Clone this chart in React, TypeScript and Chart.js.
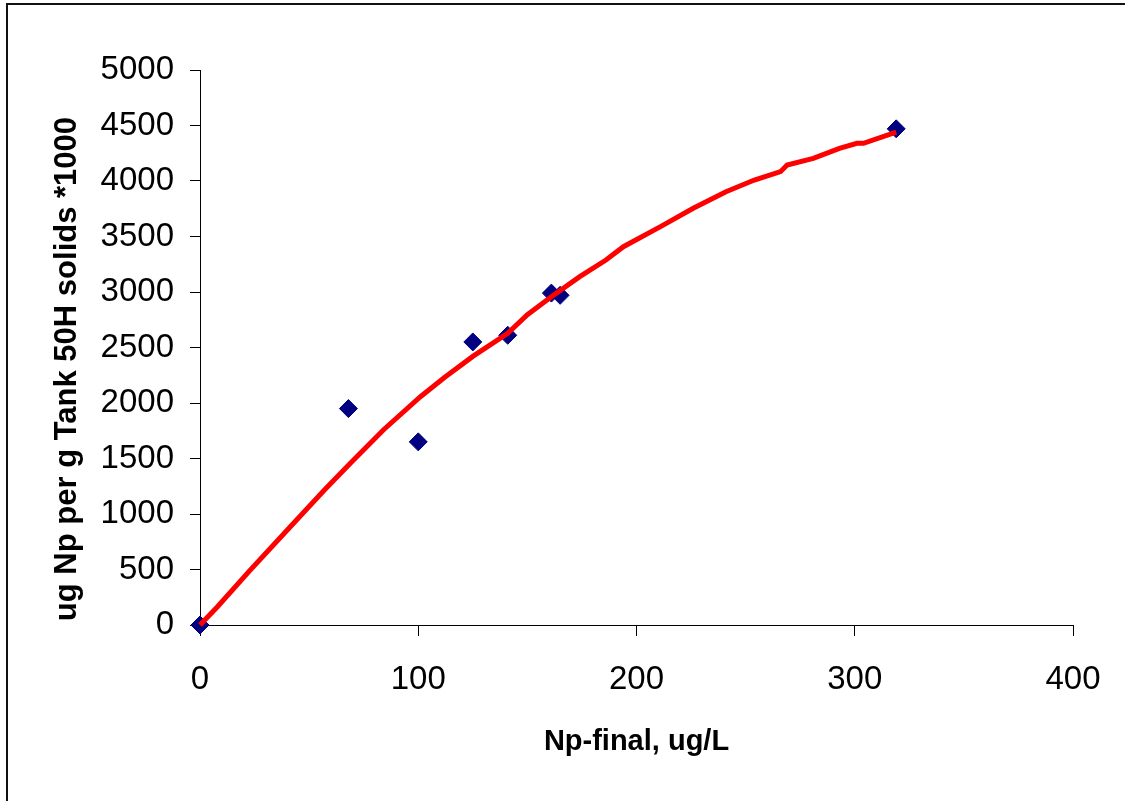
import React, { useEffect, useRef } from "react";
import { Chart, registerables } from "chart.js";

Chart.register(...registerables);

// Measured points (Np-final, ug/L vs ug Np per g solids *1000)
const measuredX = [0, 68, 100, 125, 141, 161, 165, 319];
const measuredY = [0, 1950, 1650, 2550, 2610, 2990, 2970, 4470];

// Fitted curve (red line)
const fitX = [0, 8, 23, 40, 57, 69, 84, 101, 112, 125, 141, 150, 161, 174, 186, 194, 211, 226, 241, 254, 266, 269, 281, 293, 301, 304, 319];
const fitY = [0, 165, 495, 856, 1216, 1459, 1757, 2057, 2230, 2420, 2628, 2795, 2958, 3138, 3288, 3408, 3589, 3754, 3904, 4009, 4084, 4144, 4204, 4294, 4339, 4339, 4440];

const xTitle = "Np-final, ug/L";
const yTitle = "ug Np per g Tank 50H solids *1000";

const FONT = "'Liberation Sans', Arial, sans-serif";

export default function App() {
  const canvasRef = useRef<HTMLCanvasElement | null>(null);

  useEffect(() => {
    const canvas = canvasRef.current;
    if (!canvas) return;
    const chart = new Chart(canvas, {
      type: "scatter",
      data: {
        datasets: [
          {
            label: "fit",
            data: fitX.map((x, i) => ({ x, y: fitY[i] })),
            showLine: true,
            borderColor: "#FF0000",
            backgroundColor: "#FF0000",
            borderWidth: 5,
            pointRadius: 0,
            tension: 0,
            clip: false as any,
            order: 0,
          },
          {
            label: "measured",
            data: measuredX.map((x, i) => ({ x, y: measuredY[i] })),
            showLine: false,
            pointStyle: "rectRot",
            pointRadius: 9,
            pointBackgroundColor: "#000080",
            pointBorderColor: "#000080",
            pointBorderWidth: 1,
            clip: false as any,
            order: 1,
          },
        ],
      },
      options: {
        responsive: false,
        animation: false,
        devicePixelRatio: 1,
        layout: { padding: { left: 0, top: 70, right: 52, bottom: 0 } },
        plugins: { legend: { display: false }, tooltip: { enabled: false } },
        scales: {
          x: {
            type: "linear",
            min: 0,
            max: 400,
            ticks: {
              stepSize: 100,
              color: "#000",
              padding: 24,
              font: { family: FONT, size: 33 },
              callback: (v: any) => String(v),
            },
            grid: { drawOnChartArea: false, drawTicks: true, tickLength: 11, color: "#000", lineWidth: 1 },
            border: { display: true, color: "#000", width: 1 },
            title: {
              display: true,
              text: xTitle,
              color: "#000",
              font: { family: FONT, size: 29, weight: "bold" },
              padding: { top: 0, bottom: 41.5 },
            },
            afterFit: (scale: any) => {
              scale.height = 801 - 625;
            },
          },
          y: {
            type: "linear",
            min: 0,
            max: 5000,
            ticks: {
              stepSize: 500,
              color: "#000",
              padding: 16,
              font: { family: FONT, size: 33 },
              callback: (v: any) => String(v),
            },
            grid: { drawOnChartArea: false, drawTicks: true, tickLength: 10, color: "#000", lineWidth: 1 },
            border: { display: true, color: "#000", width: 1 },
            title: {
              display: true,
              text: yTitle + "     ",
              color: "#000",
              font: { family: FONT, size: 31, weight: "bold" },
              padding: { top: 49, bottom: 0 },
            },
            afterFit: (scale: any) => {
              scale.width = 200;
            },
          },
        },
      },
    });
    return () => chart.destroy();
  }, []);

  return (
    <div style={{ position: "fixed", left: 0, top: 0, width: 1125, height: 801, background: "#fff", overflow: "hidden" }}>
      <canvas ref={canvasRef} width={1125} height={801} style={{ position: "absolute", left: 0, top: 0, width: 1125, height: 801 }} />
      <div style={{ position: "absolute", left: 6, top: 3, width: 1119, height: 2, background: "#111" }} />
      <div style={{ position: "absolute", left: 6, top: 3, width: 2, height: 798, background: "#111" }} />
    </div>
  );
}
